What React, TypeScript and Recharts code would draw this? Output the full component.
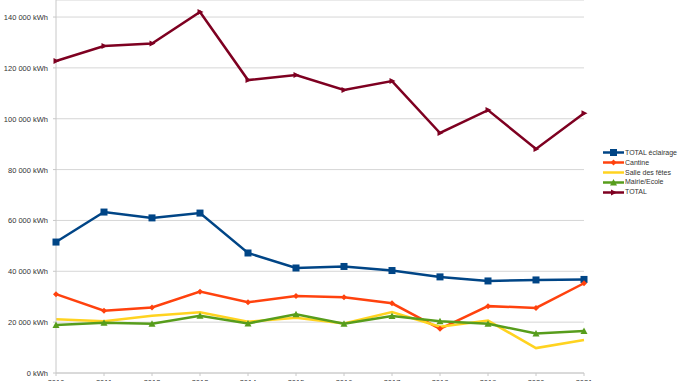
import { type ReactElement } from 'react'
import { LineChart, Line, XAxis, YAxis, CartesianGrid } from 'recharts'

const years = ['2010', '2011', '2012', '2013', '2014', '2015', '2016', '2017', '2018', '2019', '2020', '2021']
const totalEclairage = [51500, 63300, 61000, 62900, 47200, 41300, 41900, 40300, 37800, 36200, 36600, 36800]
const cantine = [31000, 24500, 25800, 32000, 27800, 30300, 29800, 27400, 17400, 26300, 25600, 35300]
const salleDesFetes = [21100, 20400, 22500, 23900, 20200, 21700, 19500, 24000, 18200, 20600, 9800, 13000]
const mairieEcole = [18900, 19800, 19400, 22500, 19500, 23100, 19400, 22400, 20400, 19400, 15500, 16500]
const total = [122700, 128600, 129600, 142000, 115200, 117200, 111300, 114800, 94400, 103400, 88100, 102200]
const yTicks = [0, 20000, 40000, 60000, 80000, 100000, 120000, 140000]

const series = [
  { key: 'eclairage', name: 'TOTAL éclairage', color: '#004586', shape: 'square', values: totalEclairage },
  { key: 'cantine', name: 'Cantine', color: '#ff420e', shape: 'diamond', values: cantine },
  { key: 'salle', name: 'Salle des fêtes', color: '#ffd320', shape: 'none', values: salleDesFetes },
  { key: 'mairie', name: 'Mairie/Ecole', color: '#579d1c', shape: 'triangle', values: mairieEcole },
  { key: 'total', name: 'TOTAL', color: '#7e0021', shape: 'arrow', values: total },
]

const data = years.map((year, i) => {
  const row: Record<string, string | number> = { year }
  series.forEach((s) => {
    row[s.key] = s.values[i]
  })
  return row
})

const font = "'Liberation Sans', Arial, sans-serif"

// 140000 -> "140 000 kWh"
const fmt = (v: number) => `${String(v).replace(/\B(?=(\d{3})+(?!\d))/g, ' ')} kWh`

function YTick(props: any) {
  const { x, y, payload } = props
  return (
    <text x={x - 3} y={y} dy={3} textAnchor="end" fill="#333" fontSize={7.5} fontFamily={font}>
      {fmt(payload.value)}
    </text>
  )
}

function XTick(props: any) {
  const { x, y, payload } = props
  return (
    <text x={x} y={y} dy={7} textAnchor="middle" fill="#333" fontSize={7.5} fontFamily={font}>
      {payload.value}
    </text>
  )
}

function marker(shape: string, color: string, cx: number, cy: number, key?: string) {
  if (shape === 'square') return <rect key={key} x={cx - 3.5} y={cy - 3.5} width={7} height={7} fill={color} />
  if (shape === 'diamond')
    return <path key={key} d={`M${cx},${cy - 3}L${cx + 3},${cy}L${cx},${cy + 3}L${cx - 3},${cy}Z`} fill={color} />
  if (shape === 'triangle')
    return <path key={key} d={`M${cx},${cy - 3.5}L${cx + 3.5},${cy + 3}L${cx - 3.5},${cy + 3}Z`} fill={color} />
  if (shape === 'arrow')
    return <path key={key} d={`M${cx + 3.5},${cy}L${cx - 2.5},${cy - 3}L${cx - 2.5},${cy + 3}Z`} fill={color} />
  return <g key={key} />
}

export default function App(): ReactElement {
  return (
    <div style={{ position: 'absolute', left: 0, top: 0, width: 678, height: 381, background: '#fff', overflow: 'hidden' }}>
      <LineChart
        width={678}
        height={381}
        data={data}
        margin={{ top: 0, right: 94, bottom: 0, left: 0 }}
        style={{ fontFamily: font }}
      >
        <CartesianGrid vertical={false} stroke="#d6d6d6" strokeWidth={1} />
        <XAxis
          dataKey="year"
          height={8}
          axisLine={{ stroke: '#c8c8c8' }}
          tickLine={{ stroke: '#c8c8c8' }}
          tickSize={3}
          tick={<XTick />}
          interval={0}
        />
        <YAxis
          width={56}
          domain={[0, 146700]}
          ticks={yTicks}
          interval={0}
          axisLine={{ stroke: '#c8c8c8' }}
          tickLine={{ stroke: '#c8c8c8' }}
          tickSize={3}
          tick={<YTick />}
          allowDataOverflow
        />
        <YAxis yAxisId="r" orientation="right" width={0} tick={false} tickLine={false} axisLine={{ stroke: '#c8c8c8' }} />
        {series.map((s) => (
          <Line
            key={s.key}
            dataKey={s.key}
            name={s.name}
            stroke={s.color}
            strokeWidth={2.5}
            isAnimationActive={false}
            dot={(p: any) => marker(s.shape, s.color, p.cx, p.cy, `${s.key}-${p.index}`)}
            activeDot={false}
          />
        ))}
      </LineChart>
      <div
        style={{
          position: 'absolute',
          left: 603,
          top: 148,
          fontFamily: font,
          fontSize: 7,
          color: '#333',
          lineHeight: '9.8px',
        }}
      >
        {series.map((s) => (
          <div key={s.key} style={{ display: 'flex', alignItems: 'center', whiteSpace: 'nowrap' }}>
            <svg width={21} height={9} style={{ marginRight: 1 }}>
              <line x1={0} y1={4.5} x2={21} y2={4.5} stroke={s.color} strokeWidth={2.5} />
              {marker(s.shape, s.color, 10.5, 4.5)}
            </svg>
            {s.name}
          </div>
        ))}
      </div>
    </div>
  )
}
